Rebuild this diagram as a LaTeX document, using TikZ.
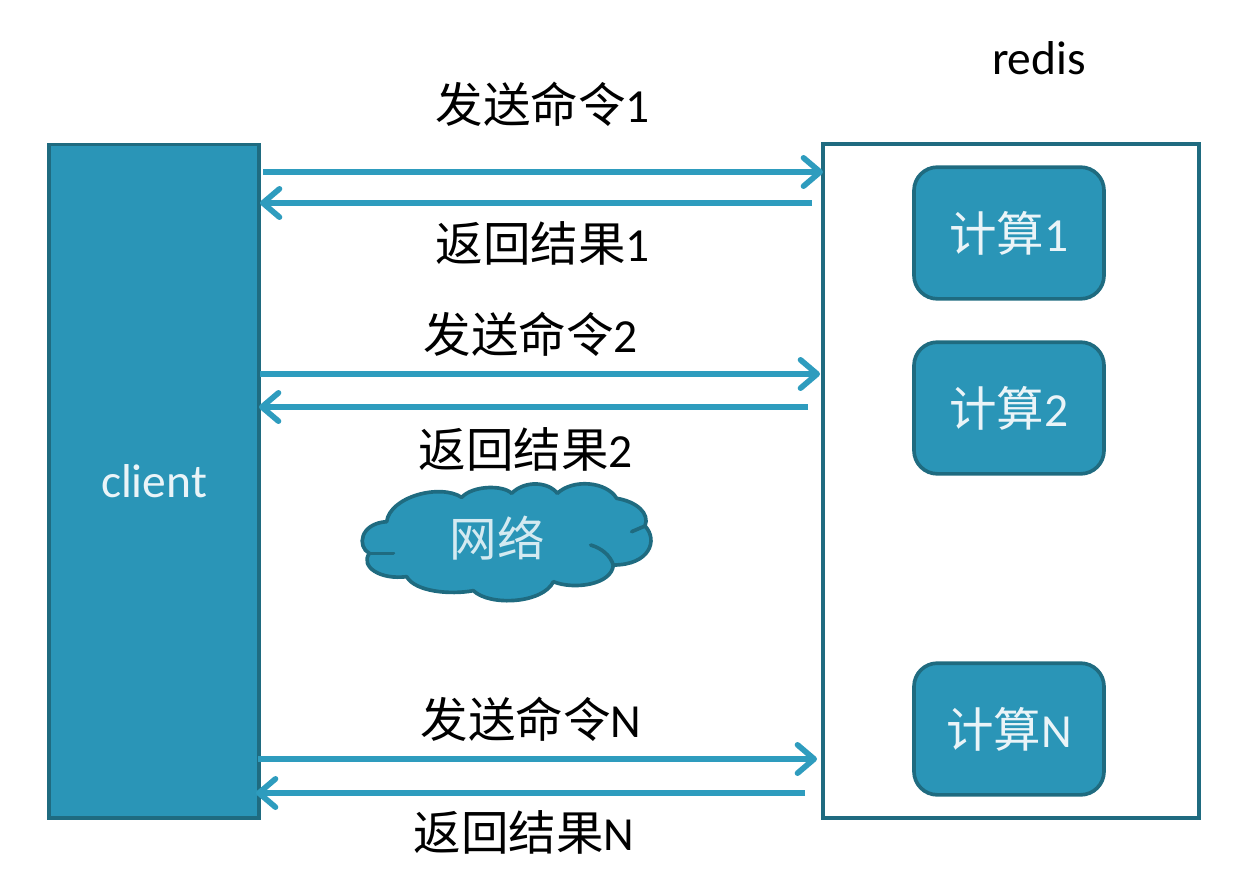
\documentclass[tikz,border=0pt]{standalone}
\usepackage{fontspec}
\setmainfont{Carlito}
\newfontfamily\cjk{Noto Sans CJK SC}
\usetikzlibrary{arrows.meta}
\definecolor{tealfill}{HTML}{2A95B7}
\definecolor{tealline}{HTML}{1F6B80}
\definecolor{arrowcol}{HTML}{2E9CBE}
\tikzset{
	bigtext/.style={font=\fontsize{28.5}{30}\selectfont},
	tealbox/.style={draw=tealline,fill=tealfill,line width=2.2pt,text=white!90!tealfill,bigtext},
	calcbox/.style={tealbox,rounded corners=14pt,minimum width=114pt,minimum height=79pt},
	msg/.style={bigtext,text=black},
	flow/.style={draw=arrowcol,line width=3.4pt,-{Straight Barb[length=10pt,width=17pt,round]}}
}
\begin{document}
\begin{tikzpicture}[x=0.6pt,y=-0.6pt]
	\useasboundingbox (0,0) rectangle (1256,886);
	\node[tealbox,minimum width=126pt,minimum height=404pt] (client) at (154,481) {client};
	\node[draw=tealline,line width=2.4pt,minimum width=226pt,minimum height=404pt] (server) at (1011,481) {};
	\node[bigtext] (redis) at (1039,58) {redis};

	\node[calcbox] (calc1) at (1009,233) {{\cjk 计算}1};
	\node[calcbox] (calc2) at (1009,408) {{\cjk 计算}2};
	\node[calcbox] (calcN) at (1009,729) {{\cjk 计算}N};

	% cloud outline
	\begin{scope}[shift={(340,460)},x=0.2pt,y=-0.2pt]
		\draw[draw=tealline,fill=tealfill,line width=2.2pt,line join=round]
			(140,185) .. controls (150,110) and (300,70) .. (365,112)
			.. controls (400,75) and (490,75) .. (515,100)
			.. controls (555,60) and (625,65) .. (652,100)
			.. controls (700,55) and (800,65) .. (830,115)
			.. controls (890,125) and (930,160) .. (915,198)
			.. controls (955,240) and (930,315) .. (820,315)
			.. controls (815,375) and (700,390) .. (640,365)
			.. controls (610,430) and (450,440) .. (400,392)
			.. controls (330,405) and (225,395) .. (200,350)
			.. controls (120,360) and (60,320) .. (88,280)
			.. controls (50,260) and (60,190) .. (140,185) -- cycle;
		\draw[draw=tealline,line width=2.2pt,line cap=round] (88,280) -- (160,280);
		\draw[draw=tealline,line width=2.2pt,line cap=round] (875,215) -- (915,198);
		\draw[draw=tealline,line width=2.2pt,line cap=round] (752,255) .. controls (785,265) and (810,285) .. (820,315);
	\end{scope}
	\node[bigtext,text=white!80!tealfill] (net) at (497,538) {{\cjk 网络}};

	\node[msg] (send1) at (543,104) {{\cjk 发送命令}1};
	\node[msg] (back1) at (543,243) {{\cjk 返回结果}1};
	\node[msg] (send2) at (531,334) {{\cjk 发送命令}2};
	\node[msg] (back2) at (526,449) {{\cjk 返回结果}2};
	\node[msg] (sendN) at (531,719) {{\cjk 发送命令}N};
	\node[msg] (backN) at (524,832) {{\cjk 返回结果}N};

	\coordinate (c1a) at (263,172); \coordinate (s1a) at (823,172);
	\coordinate (s1b) at (812,203); \coordinate (c1b) at (260,203);
	\coordinate (c2a) at (260,374); \coordinate (s2a) at (820,374);
	\coordinate (s2b) at (808,407); \coordinate (c2b) at (259,407);
	\coordinate (cNa) at (258,759); \coordinate (sNa) at (817,759);
	\coordinate (sNb) at (805,793); \coordinate (cNb) at (256,793);

	\draw[flow] (c1a) -- (s1a);
	\draw[flow] (s1b) -- (c1b);
	\draw[flow] (c2a) -- (s2a);
	\draw[flow] (s2b) -- (c2b);
	\draw[flow] (cNa) -- (sNa);
	\draw[flow] (sNb) -- (cNb);
\end{tikzpicture}
\end{document}
